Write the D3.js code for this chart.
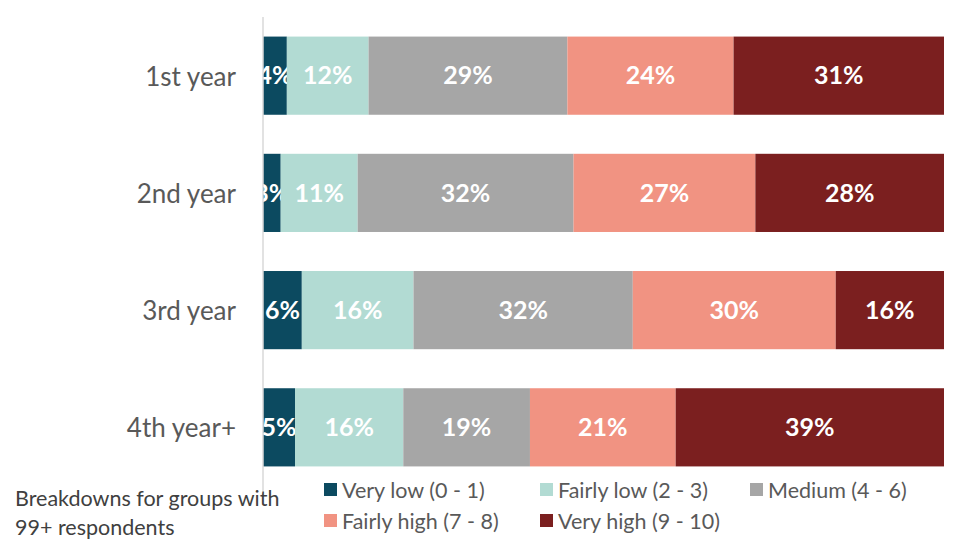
<!DOCTYPE html>
<html><head><meta charset="utf-8">
<script src="https://cdn.jsdelivr.net/npm/d3@7"></script>
<style>body{margin:0;background:#fff}svg{display:block}</style>
</head><body>
<script>
const categories = ["1st year","2nd year","3rd year","4th year+"];
const seriesNames = ["Very low (0 - 1)","Fairly low (2 - 3)","Medium (4 - 6)","Fairly high (7 - 8)","Very high (9 - 10)"];
const colors = ["#0c4a60","#b2dbd3","#a6a6a6","#f19382","#7b1f1f"];
const veryLow   = [3.5, 2.6, 5.7, 4.7];
const fairlyLow = [12.0, 11.3, 16.4, 15.9];
const medium    = [29.2, 31.7, 32.2, 18.6];
const fairlyHigh= [24.4, 26.7, 29.8, 21.4];
const veryHigh  = [30.9, 27.7, 15.9, 39.4];
const noteLines = ["Breakdowns for groups with","99+ respondents"];

const W=956,H=541;
const font = "Lato, 'Open Sans', sans-serif";
const svg=d3.select("body").append("svg").attr("width",W).attr("height",H);
const rows = categories.map((c,i)=>({cat:c, vals:[veryLow[i],fairlyLow[i],medium[i],fairlyHigh[i],veryHigh[i]]}));
const x=d3.scaleLinear().domain([0,100]).range([263,944]);
const y=d3.scaleBand().domain(categories).range([17,486]).paddingInner(0.333).paddingOuter(0.167);

rows.forEach(r=>{
  let acc=0;
  const g=svg.append("g");
  r.vals.forEach((v,j)=>{
    const x0=x(acc), x1=x(acc+v);
    g.append("rect").attr("x",x0).attr("y",y(r.cat)).attr("width",x1-x0).attr("height",y.bandwidth()).attr("fill",colors[j]);
    g.append("text").attr("x",(x0+x1)/2).attr("y",y(r.cat)+y.bandwidth()/2).attr("dy","0.35em")
      .attr("text-anchor","middle").attr("fill","#fff").attr("font-family",font).attr("font-weight","bold")
      .attr("font-size",25).text(Math.round(v)+"%");
    acc+=v;
  });
});
// axis
svg.append("line").attr("x1",263).attr("x2",263).attr("y1",17).attr("y2",497).attr("stroke","#d9d9d9").attr("stroke-width",1.5);
svg.append("g").selectAll("text").data(categories).join("text")
  .attr("x",236).attr("y",d=>y(d)+y.bandwidth()/2+1).attr("dy","0.35em").attr("text-anchor","end")
  .attr("fill","#595959").attr("font-family",font).attr("font-size",26).text(d=>d);

// legend
const legPos=[[324,490],[540,490],[750,490],[324,521],[540,521]];
seriesNames.forEach((s,i)=>{
  const [lx,ly]=legPos[i];
  svg.append("rect").attr("x",lx).attr("y",ly-7).attr("width",13).attr("height",13).attr("fill",colors[i]);
  svg.append("text").attr("x",lx+18).attr("y",ly).attr("dy","0.35em").attr("fill","#595959")
    .attr("font-family",font).attr("font-size",21.5).text(s);
});
svg.append("g").selectAll("text").data(noteLines).join("text")
  .attr("x",15).attr("y",(d,i)=>498+i*29).attr("dy","0.35em").attr("fill","#404040")
  .attr("font-family",font).attr("font-size",21.5).text(d=>d);
</script>
</body></html>
